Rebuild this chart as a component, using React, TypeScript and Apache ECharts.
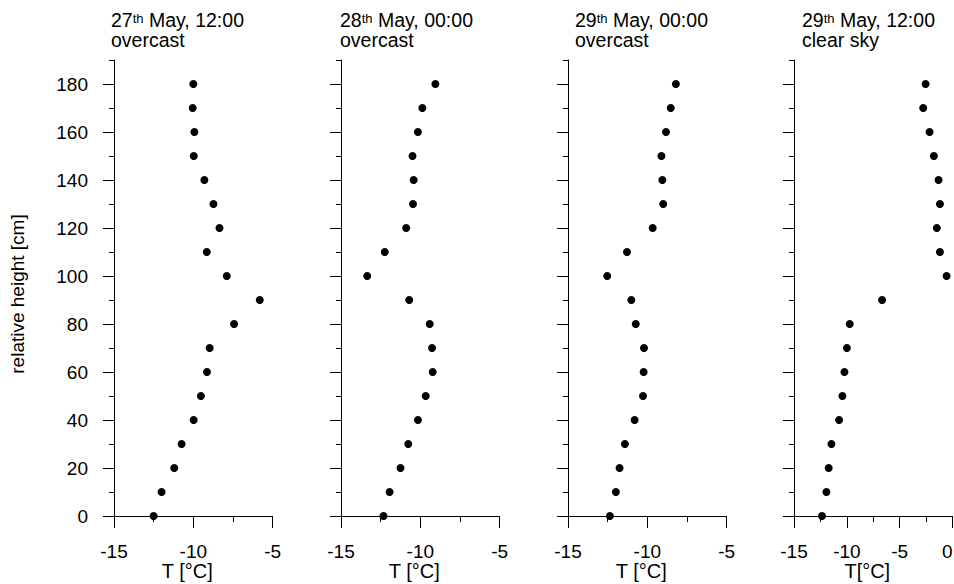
import React, { useEffect, useRef } from "react";
import * as echarts from "echarts";

// ---- data ----
const heights = [0, 10, 20, 30, 40, 50, 60, 70, 80, 90, 100, 110, 120, 130, 140, 150, 160, 170, 180];
const tMay27Noon = [-12.5, -12.0, -11.2, -10.74, -9.98, -9.52, -9.14, -8.97, -7.43, -5.81, -7.89, -9.15, -8.35, -8.73, -9.3, -9.97, -9.93, -10.04, -10.0];
const tMay28Midnight = [-12.32, -11.94, -11.25, -10.76, -10.15, -9.66, -9.22, -9.26, -9.41, -10.7, -13.35, -12.24, -10.89, -10.46, -10.42, -10.49, -10.15, -9.87, -9.05];
const tMay29Midnight = [-12.36, -11.98, -11.75, -11.41, -10.8, -10.27, -10.23, -10.21, -10.73, -11.01, -12.53, -11.28, -9.66, -9.0, -9.05, -9.11, -8.82, -8.52, -8.2];
const tMay29Noon = [-12.35, -11.93, -11.72, -11.46, -10.74, -10.42, -10.23, -10.0, -9.73, -6.67, -0.57, -1.2, -1.49, -1.2, -1.33, -1.77, -2.18, -2.78, -2.56];

const panelSeries = [tMay27Noon, tMay28Midnight, tMay29Midnight, tMay29Noon];
const panelDays = ["27", "28", "29", "29"];
const panelTimes = [" May, 12:00", " May, 00:00", " May, 00:00", " May, 12:00"];
const panelSky = ["overcast", "overcast", "overcast", "clear sky"];
const xAxisNames = ["T [°C]", "T [°C]", "T [°C]", "T[°C]"];
const xMins = [-15, -15, -15, -15];
const xMaxes = [-5, -5, -5, 0];
const xTickInterval = 5;
const yMin = 0;
const yMax = 190;
const yMajorTicks = [0, 20, 40, 60, 80, 100, 120, 140, 160, 180];
const yAxisName = "relative height [cm]";

// ---- layout ----
const FONT = "'Liberation Sans', Arial, sans-serif";
const panelLefts = [114, 341, 568, 794];
const panelWidth = 158.6;
const gridTop = 60;
const gridHeight = 456;
const titleX = [111, 340, 575, 802];

export default function App() {
  const ref = useRef<HTMLDivElement>(null);

  useEffect(() => {
    if (!ref.current) return;
    const chart = echarts.init(ref.current, null, { renderer: "svg" });

    const grids: any[] = [];
    const xAxes: any[] = [];
    const yAxes: any[] = [];
    const series: any[] = [];
    const graphics: any[] = [];

    panelSeries.forEach((vals, i) => {
      grids.push({
        left: panelLefts[i],
        top: gridTop,
        width: panelWidth,
        height: gridHeight,
        containLabel: false,
        outerBoundsMode: "none",
      });
      xAxes.push({
        type: "value",
        gridIndex: i,
        min: xMins[i],
        max: xMaxes[i],
        interval: xTickInterval,
        position: "bottom",
        axisLine: { show: true, onZero: false, lineStyle: { color: "#000", width: 1 } },
        axisTick: { show: true, length: 12, lineStyle: { color: "#000", width: 1 } },
        minorTick: { show: true, splitNumber: 2, length: 6, lineStyle: { color: "#000", width: 1 } },
        splitLine: { show: false },
        minorSplitLine: { show: false },
        axisLabel: {
          show: true,
          margin: 27,
          color: "#000",
          fontSize: 19,
          lineHeight: 16,
          fontFamily: FONT,
          showMinLabel: true,
          showMaxLabel: true,
          hideOverlap: false,
          alignMaxLabel: i === 3 ? "right" : undefined,
        },
        name: xAxisNames[i],
        nameLocation: "middle",
        nameGap: 46,
        nameMoveOverlap: false,
        nameTextStyle: {
          color: "#000",
          fontSize: 20,
          lineHeight: 17,
          fontFamily: FONT,
          padding: [0, 12, 0, 0],
        },
      });
      // all ticks (every 10), short
      yAxes.push({
        type: "value",
        gridIndex: i,
        min: yMin,
        max: yMax,
        interval: 10,
        position: "left",
        axisLine: { show: true, onZero: false, lineStyle: { color: "#000", width: 1 } },
        axisTick: { show: true, length: 5, lineStyle: { color: "#000", width: 1 } },
        axisLabel: { show: false },
        splitLine: { show: false },
      });
      // major ticks (every 20) and labels
      yAxes.push({
        type: "value",
        gridIndex: i,
        min: yMin,
        max: yMax,
        interval: 20,
        position: "left",
        axisLine: { show: false, onZero: false },
        axisTick: { show: true, length: 11, customValues: yMajorTicks, lineStyle: { color: "#000", width: 1 } },
        axisLabel: {
          show: i === 0,
          customValues: yMajorTicks,
          margin: 26,
          color: "#000",
          fontSize: 19,
          fontFamily: FONT,
          formatter: (v: number) => (yMajorTicks.indexOf(v) >= 0 ? String(v) : ""),
        },
        splitLine: { show: false },
      });
      series.push({
        type: "scatter",
        xAxisIndex: i,
        yAxisIndex: i * 2,
        symbol: "circle",
        symbolSize: 8,
        clip: false,
        itemStyle: { color: "#000", opacity: 1 },
        data: vals.map((t, k) => [t, heights[k]]),
      });
      graphics.push({
        type: "text",
        x: titleX[i],
        y: 20,
        style: {
          text: `{n|${panelDays[i]}}{s|th}{n|${panelTimes[i]}}`,
          align: "left",
          verticalAlign: "middle",
          fill: "#000",
          rich: {
            n: { fontSize: 19.5, lineHeight: 16, fontFamily: FONT, fill: "#000", color: "#000" },
            s: { fontSize: 13, lineHeight: 12, fontFamily: FONT, fill: "#000", color: "#000", verticalAlign: "top" },
          },
        },
      });
      graphics.push({
        type: "text",
        x: titleX[i],
        y: 40,
        style: {
          text: panelSky[i],
          align: "left",
          verticalAlign: "middle",
          fill: "#000",
          fontSize: 19.5,
          lineHeight: 16,
          fontFamily: FONT,
        },
      });
    });

    graphics.push({
      type: "text",
      x: 17,
      y: 294,
      rotation: Math.PI / 2,
      style: {
        text: yAxisName,
        align: "center",
        verticalAlign: "middle",
        fill: "#000",
        fontSize: 19,
        fontFamily: FONT,
      },
    });

    chart.setOption({
      animation: false,
      backgroundColor: "#fff",
      grid: grids,
      xAxis: xAxes,
      yAxis: yAxes,
      series,
      graphic: graphics,
    });

    return () => chart.dispose();
  }, []);

  return (
    <div
      ref={ref}
      style={{ position: "fixed", left: 0, top: 0, width: 954, height: 584, background: "#fff" }}
    />
  );
}
